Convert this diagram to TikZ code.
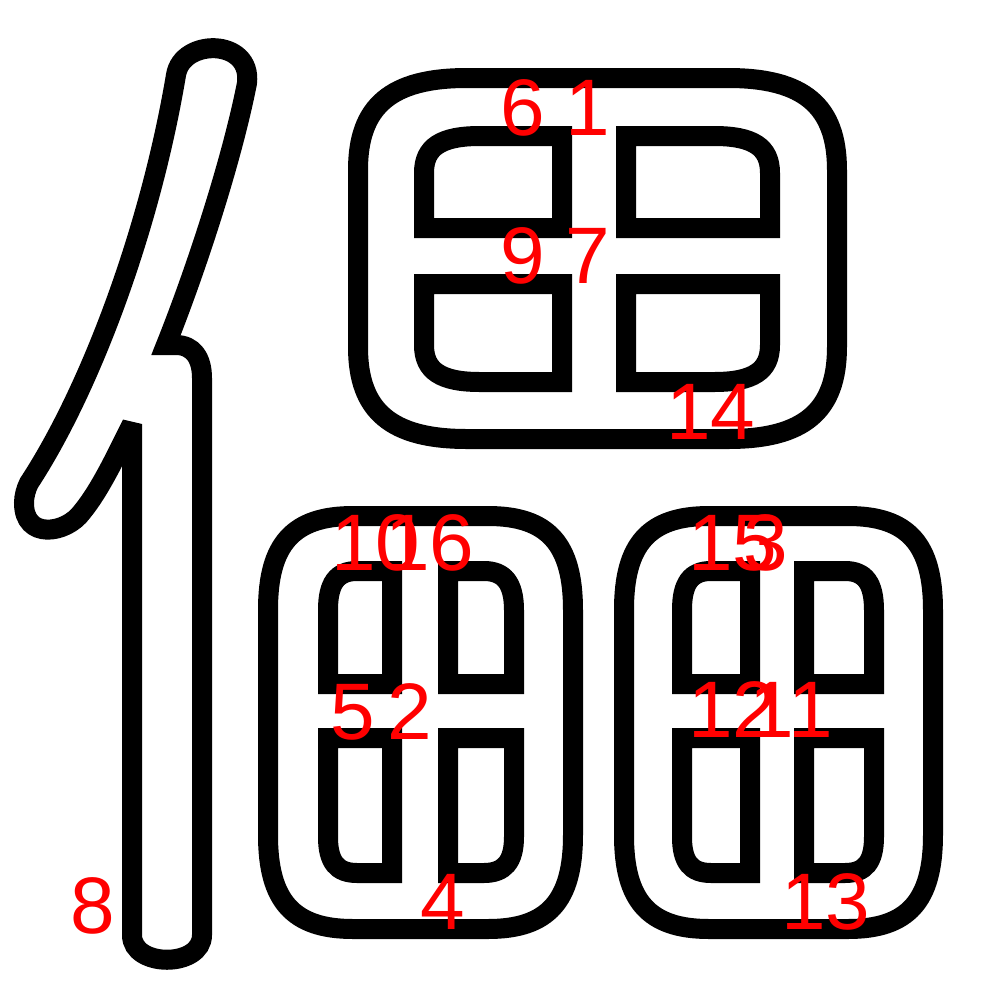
\documentclass[tikz,border=0pt]{standalone}
\usepackage{fontspec}
\setmainfont{Liberation Sans}
\usepackage{tikz}
\usetikzlibrary{positioning}

\begin{document}
\begin{tikzpicture}[x=0.1mm, y=-0.1mm,
    glyph/.style={draw, line width=2mm, miter limit=4},
    num/.style={text=red, inner sep=0pt, font=\fontsize{22.8}{24}\selectfont}]
    \useasboundingbox (0,0) rectangle (1000,1000);

    % left radical
    \draw [glyph] (202,600) -- (202,935) .. controls (202,968) and (132,968) .. (132,935)
        -- (132,424) .. controls (115,458) and (100,490) .. (82,512)
        .. controls (66,534) and (24,540) .. (24,503) .. controls (24,496) and (26,489) .. (29,483)
        .. controls (90,390) and (150,230) .. (176,75)
        .. controls (182,38) and (252,38) .. (247,83)
        .. controls (232,160) and (196,270) .. (166,345)
        -- (176,345) .. controls (193,345) and (202,358) .. (202,378) -- cycle;

    % top box
    \draw [glyph] (358,170) .. controls (358,106) and (391,78) .. (467,78) -- (728,78)
        .. controls (804,78) and (837,106) .. (837,170) -- (837,347)
        .. controls (837,411) and (804,439) .. (728,439) -- (467,439)
        .. controls (391,439) and (358,411) .. (358,347) -- cycle;
    \draw [glyph] (562,228) -- (424,228) -- (424,173) .. controls (424,147) and (441,136) .. (480,136) -- (562,136) -- cycle;
    \draw [glyph] (626,228) -- (626,136) -- (714,136) .. controls (753,136) and (770,147) .. (770,173) -- (770,228) -- cycle;
    \draw [glyph] (562,284) -- (424,284) -- (424,345) .. controls (424,371) and (441,382) .. (480,382) -- (562,382) -- cycle;
    \draw [glyph] (626,284) -- (770,284) -- (770,345) .. controls (770,371) and (753,382) .. (714,382) -- (626,382) -- cycle;

    % bottom left box
    \draw [glyph] (268,610) .. controls (268,544) and (293,516) .. (353,516) -- (488,516)
        .. controls (548,516) and (573,544) .. (573,610) -- (573,835)
        .. controls (573,901) and (548,929) .. (488,929) -- (353,929)
        .. controls (293,929) and (268,901) .. (268,835) -- cycle;
    \draw [glyph] (392,684) -- (328,684) -- (328,610) .. controls (328,583) and (337,571) .. (357,571) -- (392,571) -- cycle;
    \draw [glyph] (448,684) -- (448,571) -- (484,571) .. controls (504,571) and (514,583) .. (514,610) -- (514,684) -- cycle;
    \draw [glyph] (392,738) -- (328,738) -- (328,837) .. controls (328,862) and (337,873) .. (357,873) -- (392,873) -- cycle;
    \draw [glyph] (448,738) -- (514,738) -- (514,837) .. controls (514,862) and (504,873) .. (484,873) -- (448,873) -- cycle;

    % bottom right box
    \draw [glyph] (624,610) .. controls (624,544) and (649,516) .. (709,516) -- (848,516)
        .. controls (908,516) and (933,544) .. (933,610) -- (933,835)
        .. controls (933,901) and (908,929) .. (848,929) -- (709,929)
        .. controls (649,929) and (624,901) .. (624,835) -- cycle;
    \draw [glyph] (750,684) -- (682,684) -- (682,610) .. controls (682,583) and (691,571) .. (711,571) -- (750,571) -- cycle;
    \draw [glyph] (804,684) -- (804,571) -- (845,571) .. controls (865,571) and (874,583) .. (874,610) -- (874,684) -- cycle;
    \draw [glyph] (750,738) -- (682,738) -- (682,837) .. controls (682,862) and (691,873) .. (711,873) -- (750,873) -- cycle;
    \draw [glyph] (804,738) -- (874,738) -- (874,837) .. controls (874,862) and (865,873) .. (845,873) -- (804,873) -- cycle;

    % point numbers
    \node (n1) [num] at (588,108) {1};
    \node (n2) [num] at (410,712) {2};
    \node (n3) [num] at (766,543) {3};
    \node (n4) [num] at (443,902) {4};
    \node (n5) [num] at (353,712) {5};
    \node (n6) [num] at (523,108) {6};
    \node (n7) [num] at (588,256) {7};
    \node (n8) [num] at (93,906) {8};
    \node (n9) [num] at (523,256) {9};
    \node (n10) [num] at (376,543) {10};
    \node (n11) [num] at (791,710) {11};
    \node (n12) [num] at (733,710) {12};
    \node (n13) [num] at (826,902) {13};
    \node (n14) [num] at (711,412) {14};
    \node (n15) [num] at (733,543) {15};
    \node (n16) [num] at (430,543) {16};
\end{tikzpicture}
\end{document}
